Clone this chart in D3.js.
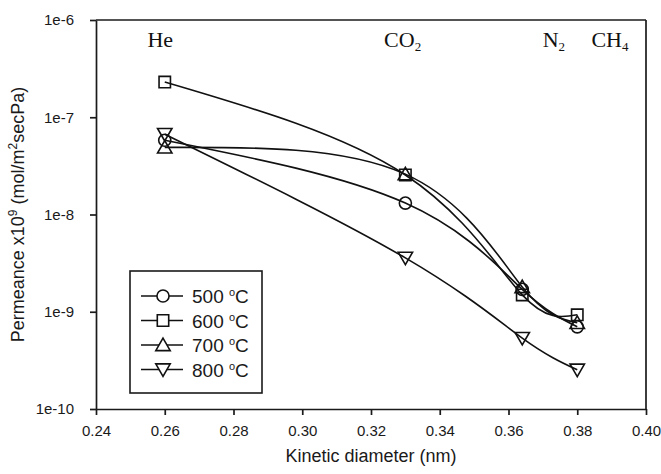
<!DOCTYPE html>
<html>
<head>
<meta charset="utf-8">
<script src="https://cdn.jsdelivr.net/npm/d3@7"></script>
<style>
  body { margin: 0; background: #fff; }
  svg { display: block; }
  .axis text { font-family: "Liberation Sans", Arial, sans-serif; font-size: 15px; fill: #1a1a1a; }
  .axis path, .axis line { stroke: #1a1a1a; stroke-width: 1.7px; }
</style>
</head>
<body>
<div id="chart"></div>
<script>
// Data
var diameters = [0.26, 0.33, 0.364, 0.38];
var gasNames = ["He", "CO", "N", "CH"];
var gasSubs = ["", "2", "2", "4"];
var temps = ["500", "600", "700", "800"];
var perm500 = [5.8e-8, 1.31e-8, 1.7e-9, 7.0e-10];
var perm600 = [2.3e-7, 2.55e-8, 1.49e-9, 9.3e-10];
var perm700 = [4.9e-8, 2.6e-8, 1.8e-9, 7.7e-10];
var perm800 = [6.7e-8, 3.58e-9, 5.36e-10, 2.53e-10];
var yTicks = [1e-10, 1e-9, 1e-8, 1e-7, 1e-6];
var xTicks = [0.24, 0.26, 0.28, 0.30, 0.32, 0.34, 0.36, 0.38, 0.40];

var series = [
    { temp: temps[0], values: perm500, symbol: d3.symbolCircle },
    { temp: temps[1], values: perm600, symbol: d3.symbolSquare },
    { temp: temps[2], values: perm700, symbol: "up" },
    { temp: temps[3], values: perm800, symbol: "down" }
];

// gas labels sit a little off their data x in the original
var gasLabelX = [0.2587, 0.3292, 0.3732, 0.3895];

var margin = { left: 96, right: 15, top: 20, bottom: 65 };
var width = 661 - margin.left - margin.right;
var height = 474 - margin.top - margin.bottom;

var svg = d3.select("#chart").append("svg")
    .attr("width", 661)
    .attr("height", 474);

var g = svg.append("g")
    .attr("transform", "translate(" + margin.left + "," + margin.top + ")");

// Scales
var x = d3.scaleLinear().domain([0.24, 0.40]).range([0, width]);
var y = d3.scaleLog().domain([1e-10, 1e-6]).range([height, 0]);

// Axes
var xAxis = g.append("g")
    .attr("class", "axis")
    .attr("transform", "translate(0," + height + ")")
    .call(d3.axisBottom(x).tickValues(xTicks).tickSize(6).tickSizeOuter(0)
        .tickFormat(d3.format(".2f")));
xAxis.selectAll("text").attr("dy", "1.2em");

var yAxis = g.append("g")
    .attr("class", "axis")
    .call(d3.axisLeft(y).tickValues(yTicks).tickSize(6).tickSizeOuter(0)
        .tickFormat(function(d){ return "1e" + Math.round(Math.log10(d)); }));
yAxis.selectAll("text").attr("x", -22);

// frame top and right
g.append("line").attr("x1", 0).attr("x2", width).attr("y1", 0).attr("y2", 0)
    .attr("stroke", "#1a1a1a").attr("stroke-width", 1.7);
g.append("line").attr("x1", width).attr("x2", width).attr("y1", 0).attr("y2", height)
    .attr("stroke", "#1a1a1a").attr("stroke-width", 1.7);

// Axis labels
g.append("text")
    .attr("x", width / 2)
    .attr("y", height + 53)
    .attr("text-anchor", "middle")
    .attr("font-family", "Liberation Sans, Arial, sans-serif")
    .attr("font-size", "18px")
    .attr("fill", "#1a1a1a")
    .text("Kinetic diameter (nm)");

var yLabel = g.append("text")
    .attr("transform", "translate(-72," + (height / 2) + ") rotate(-90)")
    .attr("text-anchor", "middle")
    .attr("font-family", "Liberation Sans, Arial, sans-serif")
    .attr("font-size", "18px")
    .attr("fill", "#1a1a1a");
yLabel.append("tspan").text("Permeance x10");
yLabel.append("tspan").attr("dy", -7).attr("font-size", "12px").text("9");
yLabel.append("tspan").attr("dy", 7).text(" (mol/m");
yLabel.append("tspan").attr("dy", -7).attr("font-size", "12px").text("2");
yLabel.append("tspan").attr("dy", 7).text("secPa)");

// Gas labels
gasNames.forEach(function(name, i){
    var t = g.append("text")
        .attr("x", x(gasLabelX[i]))
        .attr("y", 27)
        .attr("text-anchor", "middle")
        .attr("font-family", "Liberation Serif, Times New Roman, serif")
        .attr("font-size", "22px")
        .attr("fill", "#111");
    t.append("tspan").text(name);
    if (gasSubs[i]) t.append("tspan").attr("dy", 4).attr("font-size", "13px").text(gasSubs[i]);
});

// Symbols
function symbolPath(s, size) {
    if (s === "up" || s === "down") return d3.symbol().type(d3.symbolTriangle).size(size)();
    return d3.symbol().type(s).size(size)();
}
function symbolSize(s) {
    if (s === d3.symbolSquare) return 130;
    if (s === d3.symbolCircle) return 115;
    return 90;
}
function symbolTransform(s, px, py) {
    var dy = s === "up" ? 1.5 : (s === "down" ? -1.5 : 0);
    var t = "translate(" + px + "," + (py + dy) + ")";
    if (s === "down") t += " rotate(180)";
    return t;
}

// Lines
var line = d3.line()
    .x(function(d, i){ return x(diameters[i]); })
    .y(function(d){ return y(d); })
    .curve(d3.curveNatural);

series.forEach(function(s){
    g.append("path")
        .attr("d", line(s.values))
        .attr("fill", "none")
        .attr("stroke", "#111")
        .attr("stroke-width", 1.6);
});

series.forEach(function(s){
    g.selectAll(null)
        .data(s.values)
        .enter().append("path")
        .attr("d", symbolPath(s.symbol, symbolSize(s.symbol)))
        .attr("transform", function(d, i){ return symbolTransform(s.symbol, x(diameters[i]), y(d)); })
        .attr("fill", "none")
        .attr("stroke", "#111")
        .attr("stroke-width", 1.6);
});

// Legend
var legend = g.append("g").attr("transform", "translate(34,251)");
legend.append("rect")
    .attr("width", 132).attr("height", 122)
    .attr("fill", "#fff")
    .attr("stroke", "#1a1a1a")
    .attr("stroke-width", 1.6);

series.forEach(function(s, i){
    var ly = 25 + i * 24.5;
    legend.append("line")
        .attr("x1", 11).attr("x2", 53)
        .attr("y1", ly).attr("y2", ly)
        .attr("stroke", "#111").attr("stroke-width", 1.6);
    legend.append("path")
        .attr("d", symbolPath(s.symbol, symbolSize(s.symbol)))
        .attr("transform", symbolTransform(s.symbol, 33, ly))
        .attr("fill", "#fff")
        .attr("stroke", "#111")
        .attr("stroke-width", 1.6);
    var t = legend.append("text")
        .attr("x", 62).attr("y", ly + 7)
        .attr("font-family", "Liberation Sans, Arial, sans-serif")
        .attr("font-size", "19px")
        .attr("fill", "#1a1a1a");
    t.append("tspan").text(s.temp + " ");
    t.append("tspan").attr("dy", -7).attr("font-size", "11px").text("o");
    t.append("tspan").attr("dy", 7).text("C");
});
</script>
</body>
</html>
